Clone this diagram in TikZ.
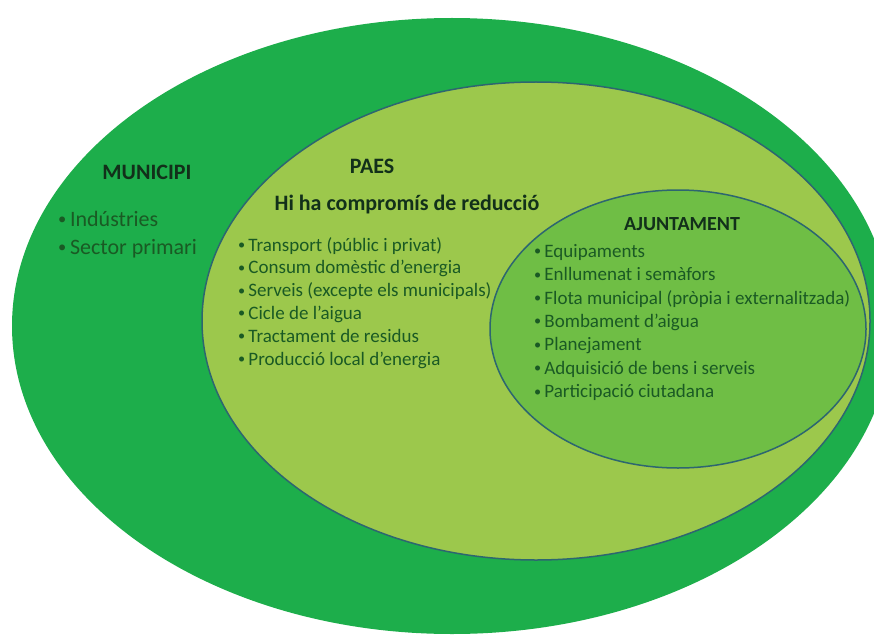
\documentclass[tikz,border=0pt]{standalone}
\usepackage{fontspec}
\setmainfont{Carlito}
\usepackage{xcolor}
\usetikzlibrary{positioning}

\definecolor{municipi}{HTML}{1DAE4B}
\definecolor{paes}{HTML}{9CC84C}
\definecolor{ajunt}{HTML}{6FBE45}
\definecolor{vora}{HTML}{2D6670}
\definecolor{titol}{HTML}{12301A}
\definecolor{llista}{HTML}{1A5A24}
\newcommand{\punt}{\raisebox{0.08em}{\scalebox{0.75}{\textbullet}}\,}

\begin{document}
\begin{tikzpicture}[x=1pt, y=-1pt,
  rotul/.style={font=\fontsize{22}{26}\selectfont\bfseries, text=titol, inner sep=0pt, anchor=base},
  items/.style={font=\fontsize{19}{22.8}\selectfont, text=llista, align=left, inner sep=0pt, anchor=north west},
  cercle/.style={draw=vora, line width=1.5pt}]
\clip (0,0) rectangle (874,639);
\fill[municipi] (452,326) ellipse [x radius=440, y radius=308];
\filldraw[cercle, fill=paes] (536,321) ellipse [x radius=334, y radius=239];
\filldraw[cercle, fill=ajunt] (678,329) ellipse [x radius=188, y radius=139];

\node[rotul] (municipi) at (147,179) {MUNICIPI};
\node[items, font=\fontsize{22}{28}\selectfont] (mlist) at (58,211) {\punt Indústries\\
  \punt Sector primari};

\node[rotul] (paes) at (372,173) {PAES};
\node[rotul] (reduccio) at (407,210) {Hi ha compromís de reducció};
\node[items] (plist) at (238,237) {\punt Transport (públic i privat)\\
  \punt Consum domèstic d’energia\\
  \punt Serveis (excepte els municipals)\\
  \punt Cicle de l’aigua\\
  \punt Tractament de residus\\
  \punt Producció local d’energia};

\node[rotul, font=\fontsize{20}{24}\selectfont\bfseries] (ajuntament) at (682,230) {AJUNTAMENT};
\node[items, font=\fontsize{19}{23.4}\selectfont] (alist) at (534,244) {\punt Equipaments\\
  \punt Enllumenat i semàfors\\
  \punt Flota municipal (pròpia i externalitzada)\\
  \punt Bombament d’aigua\\
  \punt Planejament\\
  \punt Adquisició de bens i serveis\\
  \punt Participació ciutadana};
\end{tikzpicture}
\end{document}
